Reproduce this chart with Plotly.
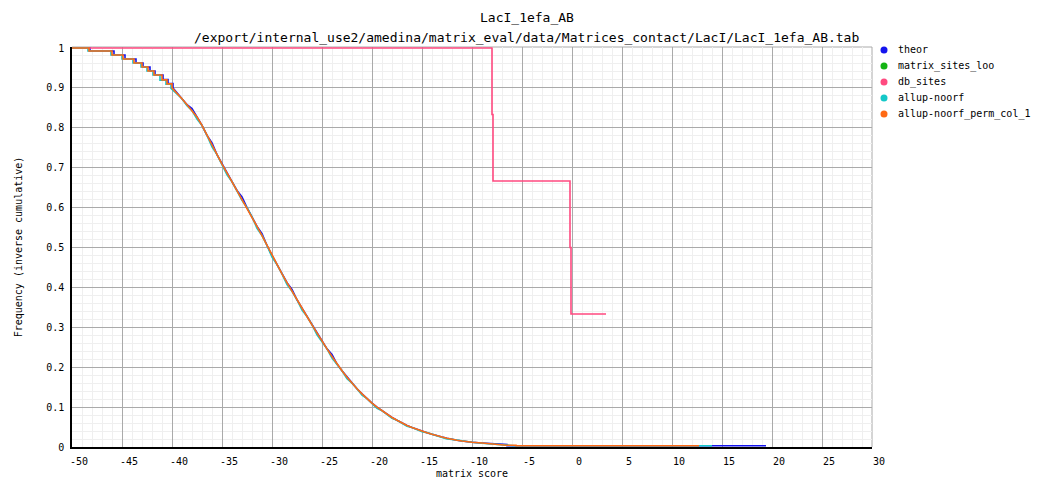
import plotly.graph_objects as go

# ---------------- data ----------------
x_tickvals = [-50, -45, -40, -35, -30, -25, -20, -15, -10, -5, 0, 5, 10, 15, 20, 25, 30]
x_ticktext = ["-50", "-45", "-40", "-35", "-30", "-25", "-20", "-15", "-10", "-5",
              "0", "5", "10", "15", "20", "25", "30"]
y_tickvals = [0, 0.1, 0.2, 0.3, 0.4, 0.5, 0.6, 0.7, 0.8, 0.9, 1]
y_ticktext = ["0", "0.1", "0.2", "0.3", "0.4", "0.5", "0.6", "0.7", "0.8", "0.9", "1"]

series_names = ["theor", "matrix_sites_loo", "db_sites", "allup-noorf", "allup-noorf_perm_col_1"]
series_colors = ["#1414ee", "#14b414", "#ff4a80", "#14c8c8", "#ff6a14"]

# common grid for the steep part of the curves
mid_score = [-39.5, -39.0, -38.5, -38.0, -37.5, -37.0, -36.5, -36.0, -35.5, -35.0,
             -34.5, -34.0, -33.5, -33.0, -32.5, -32.0, -31.5, -31.0, -30.5, -30.0,
             -29.5, -29.0, -28.5, -28.0, -27.5, -27.0, -26.5, -26.0, -25.5, -25.0,
             -24.5, -24.0, -23.5, -23.0, -22.5, -22.0, -21.5, -21.0, -20.5, -20.0,
             -19.5, -19.0, -18.5, -18.0, -17.5, -17.0, -16.5, -16.0, -15.5, -15.0,
             -14.5, -14.0, -13.5, -13.0, -12.5, -12.0, -11.5, -11.0, -10.5, -10.0]

# theor
theor_head_score = [-50.0, -48.2, -48.2, -45.8, -45.8, -44.7, -44.7, -43.6, -43.6, -42.9, -42.9,
                    -42.2, -42.2, -41.7, -41.7, -40.9, -40.9, -40.4, -40.4, -39.9, -39.9]
theor_head_freq = [1.0, 1.0, 0.9925, 0.9925, 0.9825, 0.9825, 0.9725, 0.9725, 0.9625, 0.9625, 0.9525,
                   0.9525, 0.9425, 0.9425, 0.9325, 0.9325, 0.921, 0.921, 0.911, 0.911, 0.900]
theor_mid_freq = [0.887, 0.873, 0.858, 0.848, 0.827, 0.806, 0.781, 0.762, 0.733, 0.709,
                  0.687, 0.665, 0.643, 0.627, 0.600, 0.577, 0.553, 0.535, 0.505, 0.480,
                  0.457, 0.434, 0.412, 0.395, 0.369, 0.348, 0.327, 0.306, 0.285, 0.265,
                  0.246, 0.232, 0.208, 0.191, 0.175, 0.160, 0.146, 0.133, 0.121, 0.110,
                  0.100, 0.091, 0.082, 0.074, 0.067, 0.060, 0.054, 0.049, 0.044, 0.040,
                  0.036, 0.032, 0.028, 0.025, 0.022, 0.019, 0.017, 0.015, 0.013, 0.012]
theor_tail_score = [-9.0, -8.0, -7.4, -6.5, -6.5, 19.4]
theor_tail_freq = [0.010, 0.008, 0.0075, 0.006, 0.003, 0.003]

# db_sites (step curve)
db_score = [-50.0, -8.0, -7.9, -0.2, -0.1, 3.4]
db_freq = [1.0, 0.8333, 0.6667, 0.5, 0.3333, 0.3333]

# matrix_sites_loo: no visible points in the reference
loo_score = []
loo_freq = []

# allup-noorf
noorf_head_score = [-50.0, -48.4, -48.4, -46.1, -46.1, -45.0, -45.0, -43.9, -43.9, -43.1, -43.1,
                    -42.5, -42.5, -41.9, -41.9, -41.2, -41.2, -40.6, -40.6, -40.1, -40.1]
noorf_head_freq = [1.0, 1.0, 0.9925, 0.9925, 0.9825, 0.9825, 0.9725, 0.9725, 0.9625, 0.9625, 0.9525,
                   0.9525, 0.9425, 0.9425, 0.9325, 0.9325, 0.919, 0.919, 0.909, 0.909, 0.899]
noorf_mid_freq = [0.884, 0.873, 0.855, 0.843, 0.822, 0.806, 0.781, 0.752, 0.733, 0.709,
                  0.682, 0.665, 0.643, 0.618, 0.600, 0.577, 0.548, 0.530, 0.505, 0.476,
                  0.457, 0.434, 0.407, 0.390, 0.369, 0.343, 0.327, 0.306, 0.281, 0.265,
                  0.246, 0.223, 0.208, 0.191, 0.171, 0.160, 0.146, 0.130, 0.121, 0.110,
                  0.097, 0.091, 0.082, 0.072, 0.067, 0.060, 0.052, 0.049, 0.044, 0.038,
                  0.036, 0.032, 0.028, 0.025, 0.020, 0.019, 0.017, 0.015, 0.013, 0.012]
noorf_tail_score = [-9.0, -8.0, -7.6, -6.7, -6.7, -5.7, -5.7, 14.0]
noorf_tail_freq = [0.0095, 0.0078, 0.007, 0.0055, 0.0042, 0.0042, 0.003, 0.003]

# allup-noorf_perm_col_1
perm_head_score = [-50.0, -48.3, -48.3, -46.0, -46.0, -44.9, -44.9, -43.8, -43.8, -43.0, -43.0,
                   -42.4, -42.4, -41.8, -41.8, -41.0, -41.0, -40.5, -40.5, -40.0, -40.0]
perm_head_freq = [1.0, 1.0, 0.9925, 0.9925, 0.9825, 0.9825, 0.9725, 0.9725, 0.9625, 0.9625, 0.9525,
                  0.9525, 0.9425, 0.9425, 0.9325, 0.9325, 0.920, 0.920, 0.910, 0.910, 0.900]
perm_mid_freq = [0.887, 0.873, 0.858, 0.843, 0.827, 0.806, 0.781, 0.757, 0.733, 0.709,
                 0.687, 0.665, 0.643, 0.622, 0.600, 0.577, 0.553, 0.530, 0.505, 0.480,
                 0.457, 0.434, 0.412, 0.390, 0.369, 0.348, 0.327, 0.306, 0.285, 0.265,
                 0.246, 0.227, 0.208, 0.191, 0.175, 0.160, 0.146, 0.133, 0.121, 0.110,
                 0.100, 0.091, 0.082, 0.074, 0.067, 0.060, 0.054, 0.049, 0.044, 0.040,
                 0.036, 0.032, 0.028, 0.025, 0.022, 0.019, 0.017, 0.015, 0.013, 0.012]
perm_tail_score = [-9.0, -8.0, -7.5, -6.6, -6.6, -5.6, -5.6, 12.7]
perm_tail_freq = [0.010, 0.008, 0.0075, 0.006, 0.0045, 0.0045, 0.003, 0.003]

# ---------------- figure ----------------
MONO = "DejaVu Sans Mono, Liberation Mono, monospace"
OFF = 8  # page body margin of the browser
W, H = 1054 - OFF, 498 - OFF
fig = go.Figure()

curves = [
    (theor_head_score + mid_score + theor_tail_score,
     theor_head_freq + theor_mid_freq + theor_tail_freq, "linear"),
    (loo_score, loo_freq, "hv"),
    (db_score, db_freq, "hv"),
    (noorf_head_score + mid_score + noorf_tail_score,
     noorf_head_freq + noorf_mid_freq + noorf_tail_freq, "linear"),
    (perm_head_score + mid_score + perm_tail_score,
     perm_head_freq + perm_mid_freq + perm_tail_freq, "linear"),
]

for (xs, ys, shape), name, color in zip(curves, series_names, series_colors):
    fig.add_trace(go.Scatter(x=xs, y=ys, mode="lines", name=name,
                             line=dict(color=color, width=1.6, shape=shape),
                             showlegend=False, hoverinfo="x+y+name"))

# layout in figure pixels (reference screen pixels minus the page offset)
plot_left, plot_right, plot_top, plot_bottom = 72 - OFF, 872 - OFF, 47 - OFF, 447 - OFF
pw, ph = plot_right - plot_left, plot_bottom - plot_top


def px(xs):
    return (xs - OFF - plot_left) / pw


def py(ys):
    return (plot_bottom - (ys - OFF)) / ph


shapes = []
annotations = []
legend_y_px = [50, 66, 82, 98, 114]
for name, color, ypx in zip(series_names, series_colors, legend_y_px):
    shapes.append(dict(type="circle", xref="paper", yref="paper",
                       xsizemode="pixel", ysizemode="pixel",
                       xanchor=px(884), yanchor=py(ypx),
                       x0=-3.5, x1=3.5, y0=-3.5, y1=3.5,
                       fillcolor=color, line=dict(width=0)))
    annotations.append(dict(text=name, xref="paper", yref="paper",
                            x=px(896), y=py(ypx), xanchor="left", yanchor="middle",
                            showarrow=False, font=dict(family=MONO, size=10, color="#000000")))

# top and right frame lines (gray)
shapes.append(dict(type="line", xref="paper", yref="paper", x0=0, x1=1, y0=1, y1=1,
                   line=dict(color="#aaaaaa", width=1), layer="below"))
shapes.append(dict(type="line", xref="paper", yref="paper", x0=1, x1=1, y0=0, y1=1,
                   line=dict(color="#aaaaaa", width=1), layer="below"))

# two-line title
annotations.append(dict(text="LacI_1efa_AB", xref="paper", yref="paper",
                        x=px(527), y=py(18), xanchor="center", yanchor="middle", showarrow=False,
                        font=dict(family=MONO, size=13, color="#000000")))
annotations.append(dict(text="/export/internal_use2/amedina/matrix_eval/data/Matrices_contact/LacI/LacI_1efa_AB.tab",
                        xref="paper", yref="paper",
                        x=px(526), y=py(37), xanchor="center", yanchor="middle", showarrow=False,
                        font=dict(family=MONO, size=13, color="#000000")))

fig.update_layout(
    width=W, height=H,
    margin=dict(l=plot_left, r=W - plot_right, t=plot_top, b=H - plot_bottom),
    paper_bgcolor="#ffffff", plot_bgcolor="#ffffff",
    font=dict(family=MONO, size=10, color="#000000"),
    shapes=shapes, annotations=annotations,
    showlegend=False,
)
fig.update_xaxes(
    automargin=False,
    range=[-50, 30], tickvals=x_tickvals, ticktext=x_ticktext,
    showgrid=True, gridcolor="#aaaaaa", gridwidth=1, zeroline=False,
    showline=True, linecolor="#000000", linewidth=1.5,
    ticks="", ticklabelshift=7, ticklabelstandoff=4,
    tickfont=dict(family=MONO, size=10),
    minor=dict(dtick=1, showgrid=True, gridcolor="#efefef", gridwidth=1),
    title=dict(text="matrix score", font=dict(family=MONO, size=10), standoff=4),
)
fig.update_yaxes(
    automargin=False,
    range=[0, 1.0025], tickvals=y_tickvals, ticktext=y_ticktext,
    showgrid=True, gridcolor="#aaaaaa", gridwidth=1, zeroline=False,
    showline=True, linecolor="#000000", linewidth=1.5,
    ticks="", ticklabelstandoff=4,
    tickfont=dict(family=MONO, size=10),
    minor=dict(dtick=0.02, showgrid=True, gridcolor="#efefef", gridwidth=1),
    title=dict(text="Frequency (inverse cumulative)", font=dict(family=MONO, size=10), standoff=22),
)

fig.write_html("out.html")
